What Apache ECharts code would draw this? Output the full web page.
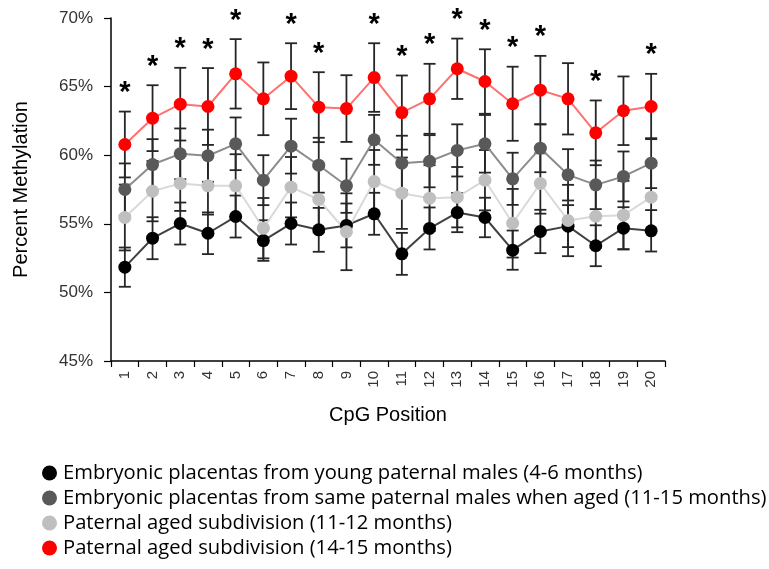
<!DOCTYPE html>
<html>
<head>
<meta charset="utf-8">
<script src="https://cdn.jsdelivr.net/npm/echarts@6/dist/echarts.min.js"></script>
<style>
  html, body { margin: 0; padding: 0; background: #fff; }
  #main { width: 769px; height: 569px; }
</style>
</head>
<body>
<div id="main"></div>
<script>
// CpG positions on the x axis
var positions = ['1','2','3','4','5','6','7','8','9','10','11','12','13','14','15','16','17','18','19','20'];
var yTicks = [45, 50, 55, 60, 65, 70];

// percent methylation
var youngVals = [51.84, 53.95, 55.02, 54.31, 55.53, 53.78, 55.02, 54.56, 54.88, 55.73, 52.81, 54.66, 55.82, 55.46, 53.08, 54.44, 54.83, 53.40, 54.68, 54.49];
var youngErr = [1.43, 1.53, 1.53, 1.52, 1.53, 1.48, 1.53, 1.6, 1.6, 1.53, 1.53, 1.53, 1.43, 1.44, 1.43, 1.58, 1.53, 1.49, 1.53, 1.51];
var agedVals = [57.50, 59.32, 60.10, 59.96, 60.83, 58.18, 60.66, 59.27, 57.77, 61.12, 59.42, 59.56, 60.35, 60.83, 58.28, 60.51, 58.57, 57.84, 58.45, 59.42];
var agedErr = [1.9, 1.85, 1.85, 1.9, 1.92, 1.82, 2.0, 2.0, 1.97, 1.82, 2.0, 1.9, 1.9, 2.1, 1.9, 1.75, 1.87, 1.77, 1.82, 1.82];
var sub1112Vals = [55.46, 57.38, 57.94, 57.77, 57.77, 54.68, 57.67, 56.77, 54.42, 58.08, 57.23, 56.87, 56.94, 58.18, 55.04, 57.94, 55.24, 55.55, 55.63, 56.94];
var sub1112Err = [2.4, 2.2, 2.0, 2.1, 2.3, 2.2, 2.2, 2.4, 2.8, 2.3, 2.6, 2.4, 2.2, 2.2, 2.5, 2.2, 2.6, 2.3, 2.5, 2.3];
var sub1415Vals = [60.78, 62.70, 63.72, 63.55, 65.93, 64.11, 65.76, 63.50, 63.40, 65.66, 63.11, 64.11, 66.30, 65.37, 63.75, 64.74, 64.11, 61.63, 63.24, 63.55];
var sub1415Err = [2.4, 2.4, 2.65, 2.8, 2.53, 2.65, 2.4, 2.55, 2.43, 2.5, 2.7, 2.55, 2.2, 2.35, 2.7, 2.5, 2.6, 2.36, 2.5, 2.38];
// 1 = significant (asterisk above the 14-15 month series)
var sigFlags = [1, 1, 1, 1, 1, 0, 1, 1, 0, 1, 1, 1, 1, 1, 1, 1, 0, 1, 0, 1];

var seriesNames = [
  'Embryonic placentas from young paternal males (4-6 months)',
  'Embryonic placentas from same paternal males when aged (11-15 months)',
  'Paternal aged subdivision (11-12 months)',
  'Paternal aged subdivision (14-15 months)'
];

var fontName = 'Liberation Sans';
var chart = echarts.init(document.getElementById('main'));

// build [x, low, high] rows for the error bars
function errRows(vals, errs) {
  return vals.map(function (v, i) { return [i, v - errs[i], v + errs[i]]; });
}

function renderErr(params, api) {
  var x = api.value(0);
  var lo = api.coord([x, api.value(1)]);
  var hi = api.coord([x, api.value(2)]);
  var w = 6;
  var st = { stroke: '#262626', lineWidth: 1.8 };
  return {
    type: 'group',
    children: [
      { type: 'line', shape: { x1: hi[0], y1: hi[1], x2: lo[0], y2: lo[1] }, style: st },
      { type: 'line', shape: { x1: hi[0] - w, y1: hi[1], x2: hi[0] + w, y2: hi[1] }, style: st },
      { type: 'line', shape: { x1: lo[0] - w, y1: lo[1], x2: lo[0] + w, y2: lo[1] }, style: st }
    ]
  };
}

function errSeries(vals, errs) {
  return {
    type: 'custom',
    renderItem: renderErr,
    data: errRows(vals, errs),
    z: 1,
    silent: true
  };
}

function lineSeries(name, vals, dotColor, lineColor) {
  return {
    name: name,
    type: 'line',
    data: vals,
    symbol: 'circle',
    symbolSize: 13,
    itemStyle: { color: dotColor, borderWidth: 0 },
    lineStyle: { color: lineColor, width: 2 },
    z: 3
  };
}

var starRows = [];
sigFlags.forEach(function (f, i) {
  if (f) starRows.push([i, sub1415Vals[i] + sub1415Err[i]]);
});

var option = {
  animation: false,
  textStyle: { fontFamily: fontName },
  grid: { left: 111, right: 104, top: 18, bottom: 208 },
  legend: {
    orient: 'vertical',
    left: 37,
    top: 458,
    itemGap: 5,
    itemWidth: 15,
    itemHeight: 15,
    icon: 'circle',
    textStyle: { fontSize: 20.2, color: '#000', fontFamily: 'Open Sans', padding: [0, 0, 0, 1] },
    data: seriesNames
  },
  xAxis: {
    type: 'category',
    data: positions,
    boundaryGap: true,
    name: 'CpG Position',
    nameLocation: 'middle',
    nameGap: 44,
    nameTextStyle: { fontSize: 20, color: '#000' },
    axisLine: { lineStyle: { color: '#000', width: 1.5 } },
    axisTick: { show: true, length: 6, interval: 0, lineStyle: { color: '#000', width: 1.2 } },
    axisLabel: { rotate: 90, interval: 0, fontSize: 15, color: '#333', margin: 10 }
  },
  yAxis: {
    type: 'value',
    min: yTicks[0],
    max: yTicks[yTicks.length - 1],
    interval: 5,
    name: 'Percent Methylation',
    nameLocation: 'middle',
    nameGap: 80,
    nameTextStyle: { fontSize: 20, color: '#000' },
    axisLine: { show: true, lineStyle: { color: '#000', width: 1.5 } },
    axisTick: { show: true, length: 7, lineStyle: { color: '#000', width: 1.2 } },
    axisLabel: { formatter: '{value}%', fontSize: 17, color: '#333', margin: 18 },
    splitLine: { show: false }
  },
  series: [
    errSeries(youngVals, youngErr),
    errSeries(agedVals, agedErr),
    errSeries(sub1112Vals, sub1112Err),
    errSeries(sub1415Vals, sub1415Err),
    lineSeries(seriesNames[0], youngVals, '#000000', '#404040'),
    lineSeries(seriesNames[1], agedVals, '#595959', '#8c8c8c'),
    lineSeries(seriesNames[2], sub1112Vals, '#bfbfbf', '#d9d9d9'),
    lineSeries(seriesNames[3], sub1415Vals, '#ff0000', '#ff7070'),
    {
      type: 'custom',
      silent: true,
      data: starRows,
      z: 4,
      renderItem: function (params, api) {
        var p = api.coord([api.value(0), api.value(1)]);
        return {
          type: 'text',
          x: p[0],
          y: p[1] - 4,
          style: {
            text: '*',
            fontSize: 29,
            fontWeight: 'bold',
            fontFamily: fontName,
            fill: '#000',
            align: 'center',
            verticalAlign: 'bottom'
          }
        };
      }
    }
  ]
};

chart.setOption(option);
</script>
</body>
</html>
